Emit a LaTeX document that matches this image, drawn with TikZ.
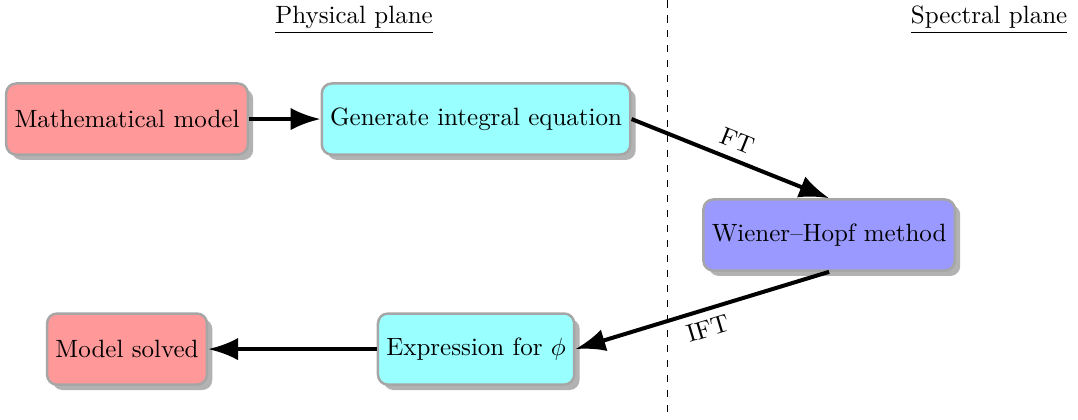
\documentclass[tikz,border=0pt]{standalone}
\usepackage{tikz}
\usetikzlibrary{arrows.meta,%
                shadows}
\usepackage{amsmath}
\definecolor{physred}{RGB}{255,153,153}
\definecolor{intcyan}{RGB}{153,255,255}
\definecolor{whblue}{RGB}{153,153,255}
\tikzstyle{physbox}=[rectangle, draw=gray!70, line width=1pt, rounded corners=4pt, fill=physred, drop shadow={fill=gray!60,opacity=1}, minimum height=1cm]
\tikzstyle{intbox}=[physbox, fill=intcyan]
\tikzstyle{whbox}=[physbox, fill=whblue]
\tikzstyle{post}=[-{Latex[length=12pt,width=9pt]}, line width=1.6pt]

\begin{document}
\begin{tikzpicture}
  \useasboundingbox (0,0) rectangle (15.16,-5.893);
  \node at (4.98,-0.28) {\underline{Physical plane}};
  \node at (13.91,-0.28) {\underline{Spectral plane}};
  \draw[dashed] (9.381,0) -- (9.381,-5.893);

  \node[physbox] (mathmodel) at (1.786,-1.674) {Mathematical model};
  \node[intbox] (inteq) at (6.695,-1.674) {Generate integral equation};
  \node[whbox] (wh) at (11.66,-3.305) {Wiener--Hopf method};
  \node[intbox] (phi) at (6.695,-4.909) {Expression for $\phi$};
  \node[physbox] (solved) at (1.786,-4.909) {Model solved};

    \draw[post] (mathmodel) -- (inteq);
    \draw[post] (inteq.east) -- node[above, sloped] {FT} (wh.north);
    \draw[post] (wh.south) -- node[below, sloped] {IFT} (phi.east);
    \draw[post] (phi) -- (solved);
\end{tikzpicture}
\end{document}
